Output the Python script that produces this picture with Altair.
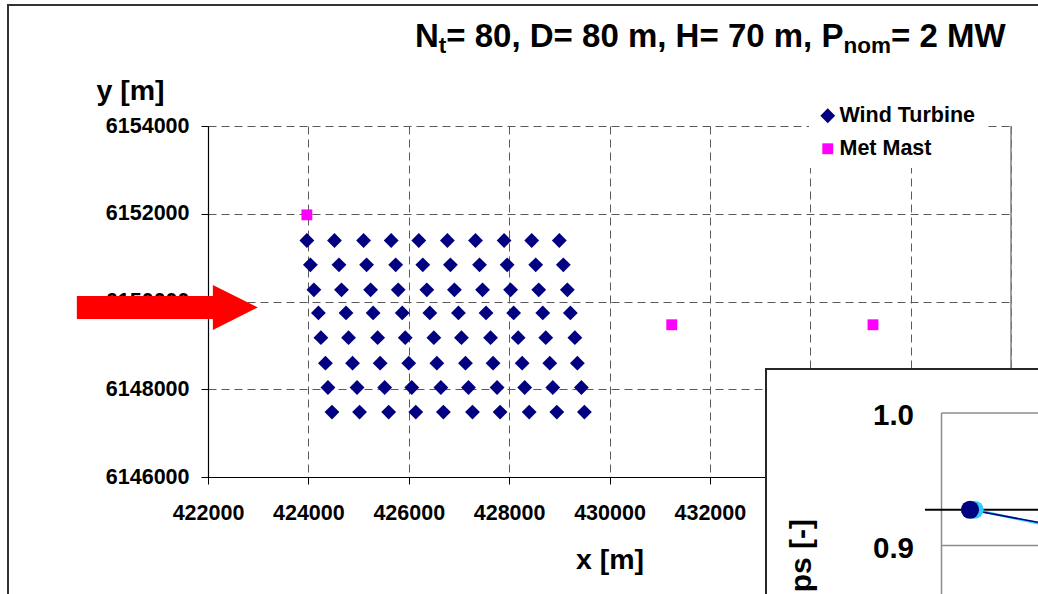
import altair as alt
import pandas as pd

FONT = "Liberation Sans"

# ---------------- data ----------------
row_y = [6151390, 6150835, 6150265, 6149740, 6149175, 6148595, 6148040, 6147480]
row1_x = [423970, 424520, 425100, 425650, 426200, 426770, 427330, 427900, 428450, 429000]
row2_x = [424040, 424610, 425160, 425740, 426280, 426830, 427410, 427960, 428530, 429080]
row3_x = [424110, 424660, 425240, 425790, 426360, 426910, 427470, 428030, 428590, 429160]
row4_x = [424200, 424750, 425290, 425870, 426420, 426990, 427540, 428090, 428670, 429220]
row5_x = [424250, 424800, 425380, 425930, 426500, 427050, 427630, 428180, 428730, 429310]
row6_x = [424340, 424880, 425430, 426000, 426560, 427130, 427680, 428260, 428810, 429360]
row7_x = [424390, 424970, 425520, 426060, 426640, 427190, 427760, 428310, 428870, 429440]
row8_x = [424470, 425020, 425600, 426140, 426690, 427270, 427820, 428400, 428950, 429500]
rows_x = [row1_x, row2_x, row3_x, row4_x, row5_x, row6_x, row7_x, row8_x]

mast_x = [423970, 431240, 435250]
mast_y = [6151975, 6149470, 6149470]

kinds = ["Wind Turbine", "Met Mast"]
x_ticks = [422000, 424000, 426000, 428000, 430000, 432000, 434000, 436000, 438000]
y_ticks = [6146000, 6148000, 6150000, 6152000, 6154000]

title_parts = ["N", "t", "= 80, D= 80 m, H= 70 m, P", "nom", "= 2 MW"]

# arrow annotation (data coordinates of its centre)
arrow_x = [421190]
arrow_y = [6149865]

# inset (partially visible second chart)
inset_ticks = [1.0, 0.9]
inset_tick_labels = ["1.0", "0.9"]
inset_ref = [0.927]
inset_series = ["model", "model", "meas", "meas"]
inset_row = [1.0, 2.0, 1.045, 2.045]
inset_val = [0.927, 0.913, 0.927, 0.911]
inset_ylabel = "ps [-]"

# ---------------- tables ----------------
tx, ty = [], []
for yv, xs_row in zip(row_y, rows_x):
    for xv in xs_row:
        tx.append(xv)
        ty.append(yv)
points = pd.concat([
    pd.DataFrame({"x": tx, "y": ty, "kind": kinds[0]}),
    pd.DataFrame({"x": mast_x, "y": mast_y, "kind": kinds[1]}),
], ignore_index=True)

one = pd.DataFrame({"a": [0]})

# ---------------- main scatter ----------------
xs = alt.Scale(domain=[x_ticks[0], x_ticks[-1]], nice=False, zero=False)
ys = alt.Scale(domain=[y_ticks[0], y_ticks[-1]], nice=False, zero=False)

common_axis = dict(
    labelFont=FONT, labelFontSize=21.5, labelFontWeight="bold", labelColor="black",
    titleFont=FONT, titleFontSize=28.5, titleFontWeight="bold", titleColor="black",
    tickSize=7, tickColor="black", tickWidth=1, domainColor="black", domainWidth=1.2,
    grid=True, gridColor="#5a5a5a", gridDash=[8, 5], gridWidth=1,
    labelFlush=False, labelOverlap=False, format="d",
)
xaxis = alt.Axis(values=x_ticks, title="x [m]", labelPadding=18,
                 titleY=91, titleBaseline="alphabetic", **common_axis)
yaxis = alt.Axis(values=y_ticks, title="y [m]", labelPadding=12,
                 titleAngle=0, titleAlign="left", titleX=-112, titleY=-27,
                 titleBaseline="alphabetic", **common_axis)

legend = alt.Legend(title=None, orient="none", legendX=601, legendY=-29,
                    fillColor="white", padding=8, labelFont=FONT, labelFontSize=21.5,
                    labelFontWeight="bold", labelColor="black", rowPadding=10,
                    labelOffset=1, symbolOpacity=1, symbolStrokeWidth=0)

pts = alt.Chart(points).mark_point(filled=True, opacity=1, strokeWidth=0).encode(
    x=alt.X("x:Q", scale=xs, axis=xaxis),
    y=alt.Y("y:Q", scale=ys, axis=yaxis),
    color=alt.Color("kind:N", scale=alt.Scale(domain=kinds, range=["#000080", "#FF00FF"]), legend=legend),
    shape=alt.Shape("kind:N", scale=alt.Scale(domain=kinds, range=["diamond", "square"]), legend=legend),
    size=alt.Size("kind:N", scale=alt.Scale(domain=kinds, range=[220, 118]), legend=legend),
)

right_edge = alt.Chart(pd.DataFrame({"x": [x_ticks[-1]]})).mark_rule(
    color="#808080", strokeWidth=1.5
).encode(x=alt.X("x:Q", scale=xs, axis=xaxis), y=alt.value(0), y2=alt.value(351))

arrow_path = ("M -1 -0.127 L 0.503 -0.127 L 0.503 -0.249 L 1 0 "
              "L 0.503 0.249 L 0.503 0.127 L -1 0.127 Z")
arrow = alt.Chart(pd.DataFrame({"x": arrow_x, "y": arrow_y})).mark_point(
    shape=arrow_path, filled=True, color="#FF0000", opacity=1, size=181 * 181, strokeWidth=0
).encode(x=alt.X("x:Q", scale=xs, axis=xaxis), y=alt.Y("y:Q", scale=ys, axis=yaxis))

main = alt.layer(pts, right_edge, arrow)

# ---------------- frame and title ----------------
frame = alt.Chart(one).mark_rect(fillOpacity=0, stroke="#333333", strokeWidth=2).encode(
    x=alt.value(-200), x2=alt.value(900), y=alt.value(-121), y2=alt.value(600))


def tpart(txt, px, py, size):
    return alt.Chart(one).mark_text(
        align="left", baseline="alphabetic", font=FONT, fontWeight="bold",
        fontSize=size, color="black"
    ).encode(x=alt.value(px), y=alt.value(py), text=alt.value(txt))


big, small = 33, 22.5
t_layers = [
    tpart(title_parts[0], 207, -79, big),
    tpart(title_parts[1], 230.8, -73.5, small),
    tpart(title_parts[2], 238.3, -79, big),
    tpart(title_parts[3], 635.5, -73, small),
    tpart(title_parts[4], 683, -79, big),
]

# ---------------- inset ----------------
ixs = alt.Scale(domain=[1, 2], range=[762, 862])
iys = alt.Scale(domain=[0.9, 1.0], range=[419.5, 287])

inset_box = alt.Chart(one).mark_rect(fill="white", stroke="#262626", strokeWidth=2).encode(
    x=alt.value(558), x2=alt.value(900), y=alt.value(243), y2=alt.value(600))

tick_df = pd.DataFrame({"v": inset_ticks, "lab": inset_tick_labels})
inset_grid = alt.Chart(tick_df).mark_rule(color="#8c8c8c", strokeWidth=1.5).encode(
    y=alt.Y("v:Q", scale=iys, axis=None), x=alt.value(733.5), x2=alt.value(900))
inset_left = alt.Chart(pd.DataFrame({"v": [inset_ticks[0]]})).mark_rule(
    color="#8c8c8c", strokeWidth=1.5
).encode(y=alt.Y("v:Q", scale=iys, axis=None), y2=alt.value(600), x=alt.value(733.5))
inset_labels = alt.Chart(tick_df).mark_text(
    align="right", baseline="middle", font=FONT, fontWeight="bold", fontSize=29.5,
    color="black", dy=3
).encode(y=alt.Y("v:Q", scale=iys, axis=None), x=alt.value(706), text="lab:N")
inset_title = alt.Chart(one).mark_text(
    align="right", baseline="alphabetic", angle=270, font=FONT, fontWeight="bold",
    fontSize=30, color="black"
).encode(x=alt.value(603), y=alt.value(393), text=alt.value(inset_ylabel))
inset_refline = alt.Chart(pd.DataFrame({"v": inset_ref})).mark_rule(
    color="black", strokeWidth=2
).encode(y=alt.Y("v:Q", scale=iys, axis=None), x=alt.value(717), x2=alt.value(900))

sdf = pd.DataFrame({"s": inset_series, "r": inset_row, "v": inset_val})
meas_df = sdf[sdf["s"] == "meas"]
model_df = sdf[sdf["s"] == "model"]
line_meas = alt.Chart(meas_df).mark_line(color="#33CCFF", strokeWidth=2.5).encode(
    x=alt.X("r:Q", scale=ixs, axis=None), y=alt.Y("v:Q", scale=iys, axis=None))
line_model = alt.Chart(model_df).mark_line(color="#000080", strokeWidth=1.5).encode(
    x=alt.X("r:Q", scale=ixs, axis=None), y=alt.Y("v:Q", scale=iys, axis=None))
dot_meas = alt.Chart(meas_df.iloc[:1]).mark_circle(color="#33CCFF", opacity=1, size=330).encode(
    x=alt.X("r:Q", scale=ixs, axis=None), y=alt.Y("v:Q", scale=iys, axis=None))
dot_model = alt.Chart(model_df.iloc[:1]).mark_circle(color="#000080", opacity=1, size=330).encode(
    x=alt.X("r:Q", scale=ixs, axis=None), y=alt.Y("v:Q", scale=iys, axis=None))

inset = alt.layer(inset_box, inset_grid, inset_left, inset_labels, inset_title,
                  inset_refline, line_meas, line_model, dot_meas, dot_model)

chart = alt.layer(main, frame, *t_layers, inset).resolve_scale(
    x="independent", y="independent"
).properties(
    width=803, height=351,
    padding={"left": 208, "top": 126, "right": 27, "bottom": 117},
    autosize=alt.AutoSizeParams(type="none"),
).configure(background="white").configure_view(stroke="transparent")

chart.save("out.html", embed_options={"renderer": "svg", "actions": False})
